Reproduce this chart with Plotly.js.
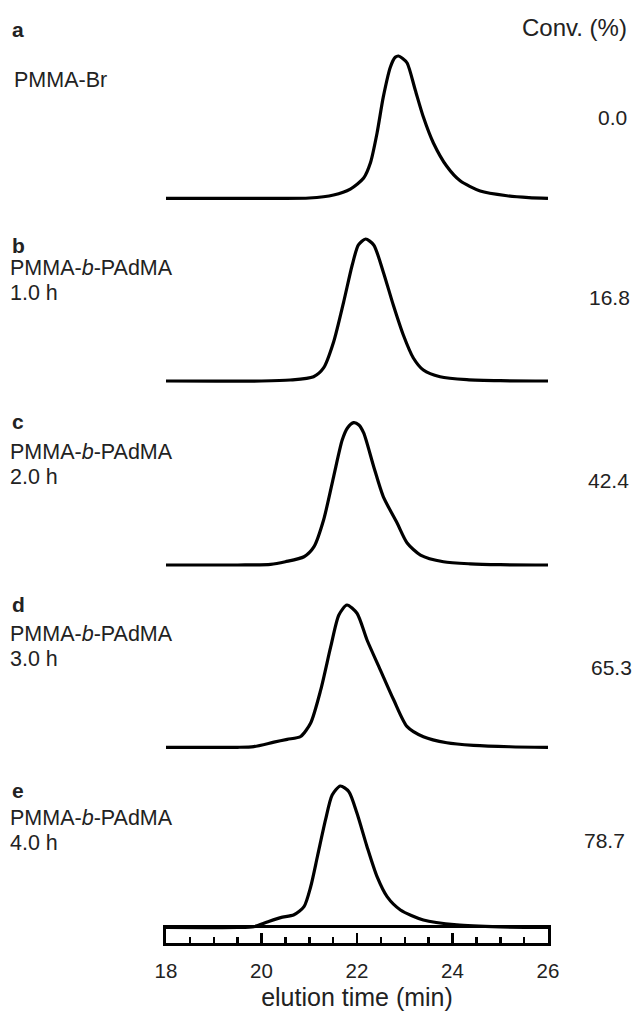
<!DOCTYPE html>
<html>
<head>
<meta charset="utf-8">
<script src="https://cdn.plot.ly/plotly-3.0.1.min.js"></script>
<style>html,body{margin:0;padding:0;background:#fff;}#chart{width:638px;height:1013px;}</style>
</head>
<body>
<div id="chart"></div>
<script>
// ---- data (elution time in min, normalized RI intensity, peak = 100) ----
const panelLetters = ["a", "b", "c", "d", "e"];
const sampleNames = ["PMMA-Br", "PMMA-<i>b</i>-PAdMA", "PMMA-<i>b</i>-PAdMA", "PMMA-<i>b</i>-PAdMA", "PMMA-<i>b</i>-PAdMA"];
const sampleTimes = ["", "1.0 h", "2.0 h", "3.0 h", "4.0 h"];
const conversions = ["0.0", "16.8", "42.4", "65.3", "78.7"];
const convHeader = "Conv. (%)";
const xTitle = "elution time (min)";
const majorTicks = [18, 20, 22, 24, 26];

const tA = [18.0, 20.0, 21.0, 21.51, 21.86, 22.14, 22.28, 22.42, 22.55, 22.70, 22.80, 22.87, 22.95, 23.05, 23.22, 23.39, 23.60, 23.88, 24.16, 24.58, 25.14, 25.6, 26.0];
const iA = [0, 0, 0.2, 2.3, 6.5, 14.3, 24.8, 45.9, 71.1, 92.3, 99.1, 100, 98.4, 95.1, 76.1, 57.1, 38.9, 22.5, 12.3, 5.1, 1.8, 0.5, 0];

const tB = [18.0, 20.0, 20.6, 21.09, 21.30, 21.51, 21.72, 21.90, 22.03, 22.18, 22.35, 22.55, 22.76, 22.97, 23.18, 23.39, 23.74, 24.30, 25.0, 26.0];
const iB = [0, 0, 0.7, 3.0, 9.2, 27.5, 55.6, 81.7, 95.8, 100, 95.8, 76.8, 53.5, 32.4, 16.2, 7.7, 3.0, 0.9, 0.2, 0];

const tC = [18.0, 19.5, 20.19, 20.5, 20.89, 21.10, 21.30, 21.51, 21.69, 21.80, 21.93, 22.04, 22.14, 22.35, 22.55, 22.84, 23.05, 23.33, 23.81, 24.37, 25.0, 26.0];
const iC = [0, 0, 0.4, 2.3, 5.8, 12.9, 31.6, 62.0, 87.8, 96.3, 100, 98.4, 92.8, 69.1, 48.1, 29.5, 15.5, 7.0, 2.3, 0.8, 0.2, 0];

const tD = [18.0, 19.5, 19.84, 20.26, 20.54, 20.82, 21.03, 21.24, 21.45, 21.62, 21.79, 22.00, 22.21, 22.49, 22.77, 23.05, 23.39, 23.88, 24.44, 25.2, 26.0];
const iD = [0, 0, 0.5, 3.6, 5.6, 7.6, 17.1, 40.3, 70.7, 93.0, 100, 94.2, 75.4, 54.3, 33.2, 14.5, 7.4, 3.2, 1.4, 0.4, 0];

const tE = [18.0, 19.5, 19.84, 20.12, 20.40, 20.68, 20.89, 21.03, 21.17, 21.34, 21.48, 21.65, 21.83, 22.00, 22.21, 22.42, 22.63, 22.91, 23.39, 24.09, 25.0, 26.0];
const iE = [0, 0, 0.6, 3.9, 7.0, 9.0, 14.7, 28.8, 50.0, 76.0, 93.6, 100, 96.0, 80.7, 57.1, 35.9, 21.8, 12.4, 5.3, 1.8, 0.4, 0];

const times = [tA, tB, tC, tD, tE];
const intens = [iA, iB, iC, iD, iE];

// ---- layout geometry (pixels) ----
const W = 638, H = 1013;
const plotL = 166, plotR = 548, plotTop = 0, plotBot = 943;
const plotH = plotBot - plotTop;
const xp = X => (X - plotL) / (plotR - plotL);
const yp = Y => (plotBot - Y) / plotH;

const baseY = [198.3, 381, 565, 747.3, 927.5];
const peakY = [56, 239, 422.7, 605, 786];
const pad = 8;

const traces = [];
const layout = {
  width: W, height: H,
  margin: {l: plotL, r: W - plotR, t: plotTop, b: H - plotBot, pad: 0},
  paper_bgcolor: "#fff", plot_bgcolor: "rgba(0,0,0,0)",
  showlegend: false,
  font: {family: "Liberation Sans, Arial, sans-serif", color: "#222"},
  xaxis: {
    range: [18, 26], anchor: "y6", side: "bottom",
    showline: true, mirror: true, linewidth: 3, linecolor: "#000",
    ticks: "inside", tickvals: majorTicks, ticklen: 10, tickwidth: 2.5, tickcolor: "#000",
    minor: {dtick: 0.5, ticks: "inside", ticklen: 6, tickwidth: 2.5, tickcolor: "#000", showgrid: false},
    showgrid: false, zeroline: false,
    tickfont: {size: 20.5, color: "#222"},
    ticklabelstandoff: 7,
    title: {text: xTitle, font: {size: 25, color: "#222"}, standoff: 8},
    fixedrange: true
  },
  yaxis6: {
    domain: [0, yp(927.5)], range: [0, 1], anchor: "x",
    showline: true, mirror: true, linewidth: 3, linecolor: "#000",
    showticklabels: false, ticks: "", showgrid: false, zeroline: false, fixedrange: true
  },
  annotations: []
};

// axis box subplot (holds the x axis)
traces.push({x: [18, 26], y: [0.5, 0.5], xaxis: "x", yaxis: "y6", type: "scatter", mode: "lines",
  line: {color: "rgba(0,0,0,0)", width: 0}, hoverinfo: "skip"});

for (let k = 0; k < 5; k++) {
  const yname = k === 0 ? "y" : "y" + (k + 1);
  const axname = k === 0 ? "yaxis" : "yaxis" + (k + 1);
  const h = baseY[k] - peakY[k];
  const lo = baseY[k] + h * pad / 100;
  const hi = peakY[k] - h * pad / 100;
  layout[axname] = {
    domain: [yp(lo), yp(hi)], range: [-pad, 100 + pad], anchor: "x",
    visible: false, showgrid: false, zeroline: false, fixedrange: true
  };
  traces.push({
    x: times[k], y: intens[k], xaxis: "x", yaxis: yname,
    type: "scatter", mode: "lines",
    line: {color: "#000", width: 3.2, shape: "spline", smoothing: 0.7},
    hoverinfo: "skip"
  });
}

// ---- text labels ----
const letterY = [29, 245, 421, 604, 790];
const nameY = [80, 268, 452, 634, 818];
const timeY = [0, 293, 477, 659, 843];
const convY = [117, 297, 480, 667, 840];
const convRight = [628, 631, 630, 633, 626];

function ann(text, X, Y, xanchor, size, bold) {
  layout.annotations.push({
    text: bold ? "<b>" + text + "</b>" : text,
    xref: "paper", yref: "paper", x: xp(X), y: yp(Y),
    xanchor: xanchor, yanchor: "middle", showarrow: false,
    font: {size: size, color: "#222", family: "Liberation Sans, Arial, sans-serif"},
    borderpad: 0
  });
}
for (let k = 0; k < 5; k++) {
  ann(panelLetters[k], 11, letterY[k], "left", 21, true);
  ann(sampleNames[k], k === 0 ? 13 : 9, nameY[k], "left", 21.5, false);
  if (sampleTimes[k]) ann(sampleTimes[k], 9, timeY[k], "left", 21.5, false);
  ann(conversions[k], convRight[k], convY[k], "right", 21, false);
}
ann(convHeader, 628, 28, "right", 24, false);

Plotly.newPlot("chart", traces, layout, {staticPlot: true, displayModeBar: false});
</script>
</body>
</html>
